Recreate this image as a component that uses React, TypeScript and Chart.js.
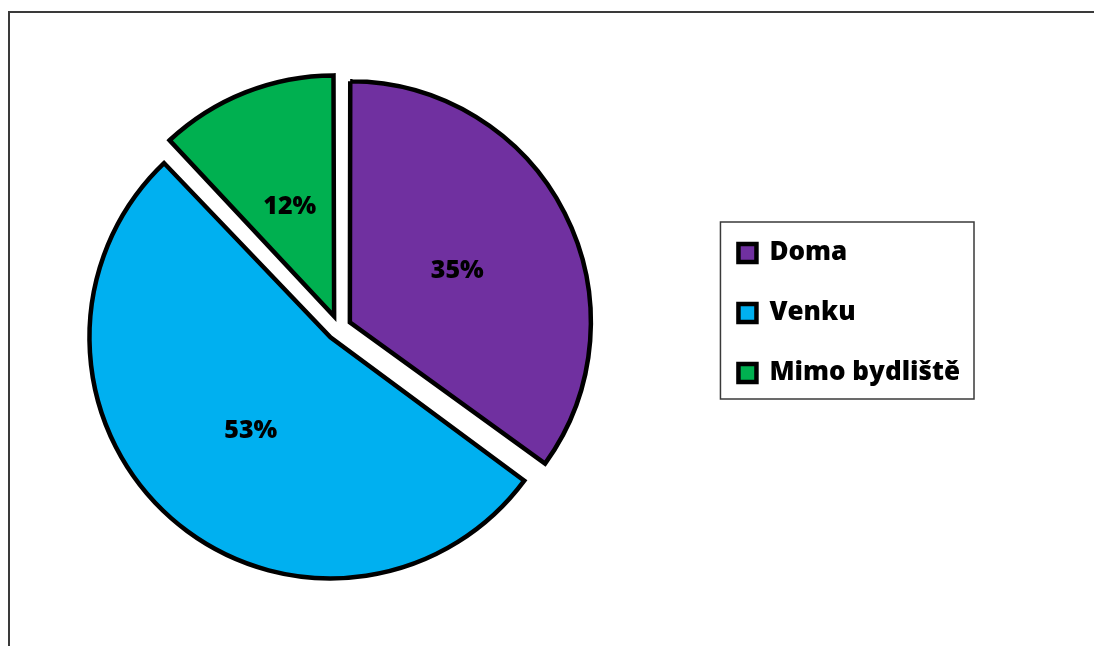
import React, { useEffect, useRef } from "react";
import { Chart, registerables } from "chart.js";

Chart.register(...registerables);

const categories = ["Doma", "Venku", "Mimo bydliště"];
const shares = [35, 53, 12];
const sliceColors = ["#7030A0", "#00B0F0", "#00B050"];

const FONT = "'Open Sans', 'Noto Sans', sans-serif";
const CANVAS_SHIFT = 40; // canvas starts 40px left of the page
const OFFSET = 50; // chart.js translates by offset/4
const RADIUS = 241;

const pieTweaks = {
  id: "pieTweaks",
  afterLayout(chart: any) {
    const lg = chart.legend;
    if (lg) {
      lg.top -= 15;
      lg.bottom -= 15;
    }
  },
  afterDatasetsUpdate(chart: any) {
    const meta = chart.getDatasetMeta(0);
    meta.data.forEach((el: any) => {
      const circ = el.circumference;
      const fix = 1 - Math.sin(Math.min(Math.PI, circ || 0));
      el.outerRadius = RADIUS - (OFFSET / 4) * fix;
    });
  },
  beforeDraw(chart: any) {
    const ctx = chart.ctx;
    ctx.save();
    ctx.strokeStyle = "#3a3a3a";
    ctx.lineWidth = 2;
    ctx.beginPath();
    ctx.moveTo(9 + CANVAS_SHIFT, chart.height + 5);
    ctx.lineTo(9 + CANVAS_SHIFT, 12);
    ctx.lineTo(chart.width + 5, 12);
    ctx.stroke();
    ctx.restore();
  },
  afterDatasetsDraw(chart: any) {
    const ctx = chart.ctx;
    const meta = chart.getDatasetMeta(0);
    const data = chart.data.datasets[0].data as number[];
    const total = data.reduce((a, b) => a + b, 0);
    ctx.save();
    ctx.fillStyle = "#000";
    ctx.font = `800 25px ${FONT}`;
    ctx.textAlign = "center";
    ctx.textBaseline = "middle";
    meta.data.forEach((el: any, i: number) => {
      const mid = (el.startAngle + el.endAngle) / 2;
      const d = OFFSET / 4 + RADIUS * 0.5;
      const x = el.x + Math.cos(mid) * d;
      const y = el.y + Math.sin(mid) * d + 3;
      ctx.fillText(Math.round((data[i] / total) * 100) + "%", x, y);
    });
    ctx.restore();
  },
  afterDraw(chart: any) {
    const lg = chart.legend;
    if (!lg || !lg.legendHitBoxes || !lg.legendHitBoxes.length) return;
    const hb = lg.legendHitBoxes;
    const left = Math.min(...hb.map((h: any) => h.left)) - 18;
    const top = Math.min(...hb.map((h: any) => h.top)) - 18;
    const right = Math.max(...hb.map((h: any) => h.left + h.width)) + 14;
    const bottom = Math.max(...hb.map((h: any) => h.top + h.height)) + 13;
    const ctx = chart.ctx;
    ctx.save();
    ctx.strokeStyle = "#3a3a3a";
    ctx.lineWidth = 1.5;
    ctx.strokeRect(left, top, right - left, bottom - top);
    ctx.restore();
  },
};

export default function App() {
  const ref = useRef<HTMLCanvasElement | null>(null);
  useEffect(() => {
    if (!ref.current) return;
    const baseLabels = (Chart as any).overrides.pie.plugins.legend.labels.generateLabels;
    const chart = new Chart(ref.current, {
      type: "pie",
      data: {
        labels: categories,
        datasets: [
          {
            data: shares,
            backgroundColor: sliceColors,
            borderColor: "#000",
            borderWidth: 4.5,
            borderJoinStyle: "miter",
            offset: OFFSET,
            radius: RADIUS,
          } as any,
        ],
      },
      options: {
        responsive: false,
        animation: false,
        events: [],
        layout: { padding: { left: 13, top: 10, right: 124, bottom: 0 } },
        plugins: {
          legend: {
            position: "right",
            labels: {
              boxWidth: 18,
              boxHeight: 18,
              padding: 34,
              color: "#000",
              font: { family: FONT, size: 26, weight: 800 },
              generateLabels: (c: any) =>
                baseLabels(c).map((l: any) => ({ ...l, lineWidth: 4.5, strokeStyle: "#000" })),
            },
          },
          tooltip: { enabled: false },
        },
      } as any,
      plugins: [pieTweaks],
    });
    return () => chart.destroy();
  }, []);
  return (
    <div
      style={{
        position: "fixed",
        left: -CANVAS_SHIFT,
        top: 0,
        width: 1094 + CANVAS_SHIFT,
        height: 646,
        background: "#fff",
      }}
    >
      <canvas ref={ref} width={1094 + CANVAS_SHIFT} height={646} style={{ display: "block" }} />
    </div>
  );
}
